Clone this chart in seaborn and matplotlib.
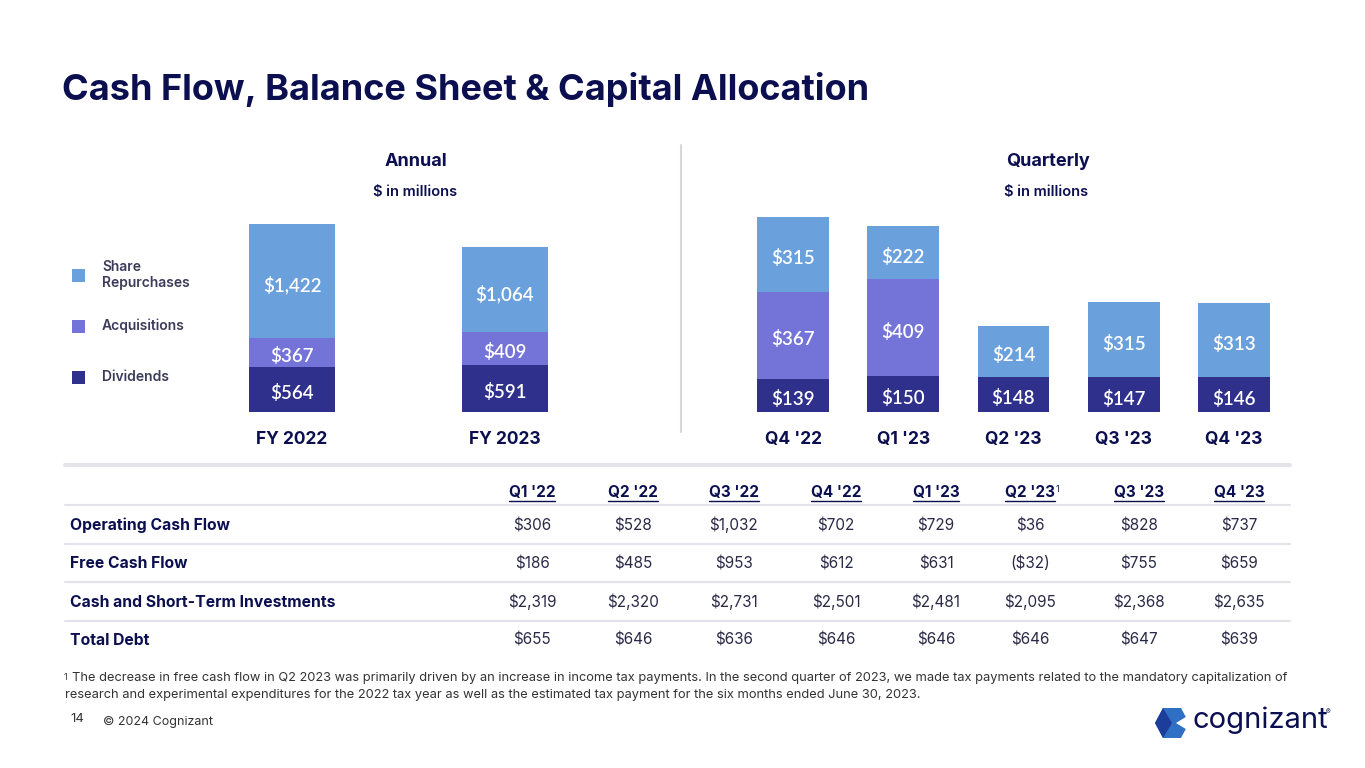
import pandas as pd
import seaborn as sns
import matplotlib.pyplot as plt
from matplotlib.patches import Rectangle, Polygon
from matplotlib.lines import Line2D
from matplotlib.transforms import offset_copy

# ---- data ----
annual_years = ["FY 2022", "FY 2023"]
annual_dividends = [564, 591]
annual_acquisitions = [367, 409]
annual_repurchases = [1422, 1064]

quarters = ["Q4 '22", "Q1 '23", "Q2 '23", "Q3 '23", "Q4 '23"]
q_dividends = [139, 150, 148, 147, 146]
q_acquisitions = [367, 409, 0, 0, 0]
q_repurchases = [315, 222, 214, 315, 313]

table_cols = ["Q1 '22", "Q2 '22", "Q3 '22", "Q4 '22", "Q1 '23", "Q2 '23", "Q3 '23", "Q4 '23"]
table_rows = ["Operating Cash Flow", "Free Cash Flow", "Cash and Short-Term Investments", "Total Debt"]
operating_cf = ["$306", "$528", "$1,032", "$702", "$729", "$36", "$828", "$737"]
free_cf = ["$186", "$485", "$953", "$612", "$631", "($32)", "$755", "$659"]
cash_sti = ["$2,319", "$2,320", "$2,731", "$2,501", "$2,481", "$2,095", "$2,368", "$2,635"]
total_debt = ["$655", "$646", "$636", "$646", "$646", "$646", "$647", "$639"]

# ---- style ----
sns.set_style("white")
plt.rcParams['font.family'] = ['Inter', 'DejaVu Sans']
VAL_FONT = ['Lato', 'DejaVu Sans']

NAVY = "#0b0f4f"
C_REP = "#6aa0dc"
C_ACQ = "#7373d8"
C_DIV = "#2e308c"
W, H = 1365, 768

fig = plt.figure(figsize=(W / 100, H / 100), dpi=100)


def px(x, y):
    return x / W, 1 - y / H


def stacked(ax, labels, div, acq, rep, width):
    df = pd.DataFrame({"period": labels, "div": div, "acq": acq, "rep": rep})
    df["c1"] = df["div"]
    df["c2"] = df["div"] + df["acq"]
    df["c3"] = df["c2"] + df["rep"]
    # overlapping cumulative bars give the stacked look
    for col, color in [("c3", C_REP), ("c2", C_ACQ), ("c1", C_DIV)]:
        sns.barplot(data=df, x="period", y=col, order=labels, color=color,
                    saturation=1, width=width, ax=ax, linewidth=0)
    tr = offset_copy(ax.transData, fig=fig, y=-4, units="dots")
    for i, r in df.iterrows():
        bottom = 0
        for v in [r["div"], r["acq"], r["rep"]]:
            if v > 0:
                ax.text(i, bottom + v / 2, f"${v:,}", ha="center", va="center", transform=tr,
                        color="white", fontsize=13.5, fontweight="semibold", family=VAL_FONT)
            bottom += v
    sns.despine(ax=ax, left=True, bottom=True)
    ax.set_yticks([])
    ax.set_xlabel("")
    ax.set_ylabel("")
    ax.set_xlim(-0.5, len(labels) - 0.5)
    ax.tick_params(axis="x", length=0, pad=14)
    for t in ax.get_xticklabels():
        t.set_fontsize(12.5)
        t.set_fontweight("bold")
        t.set_color(NAVY)


# annual panel: bars bottom at y=412, axes 262 px tall
l, b = px(185.5, 412)
ax1 = fig.add_axes([l, b, 426 / W, 262 / H])
ax1.patch.set_alpha(0)
stacked(ax1, annual_years, annual_dividends, annual_acquisitions, annual_repurchases, 0.404)
ax1.set_ylim(0, 3277)

# quarterly panel
l, b = px(738, 412)
ax2 = fig.add_axes([l, b, 551 / W, 262 / H])
ax2.patch.set_alpha(0)
stacked(ax2, quarters, q_dividends, q_acquisitions, q_repurchases, 0.65)
ax2.set_ylim(0, 1103)

# titles
fig.text(*px(62, 100), "Cash Flow, Balance Sheet & Capital Allocation", fontsize=26,
         fontweight="bold", color=NAVY, va="baseline")
fig.text(*px(416, 161), "Annual", ha="center", va="center", fontsize=13, fontweight="bold", color=NAVY)
fig.text(*px(415, 192), "$ in millions", ha="center", va="center", fontsize=10.5, fontweight="semibold", color=NAVY)
fig.text(*px(1048, 161), "Quarterly", ha="center", va="center", fontsize=13, fontweight="bold", color=NAVY)
fig.text(*px(1046, 192), "$ in millions", ha="center", va="center", fontsize=10.5, fontweight="semibold", color=NAVY)

# legend
for lab, color, yc in [("Share\nRepurchases", C_REP, 275), ("Acquisitions", C_ACQ, 326), ("Dividends", C_DIV, 377)]:
    x0, y0 = px(72, yc + 7)
    fig.add_artist(Rectangle((x0, y0), 13 / W, 13 / H, transform=fig.transFigure, color=color, lw=0))
    fig.text(*px(102, yc), lab, va="center", ha="left", fontsize=10, fontweight="semibold",
             color="#3c3c5a", linespacing=1.25)

# dividers
fig.add_artist(Line2D([681 / W, 681 / W], [1 - 145 / H, 1 - 432 / H], color="#d8d8d8", lw=1.5))
fig.add_artist(Line2D([65 / W, 1290 / W], [1 - 465 / H, 1 - 465 / H], color="#e4e4ea", lw=3))

# table
col_x = [532, 633, 734, 836, 936, 1030, 1139, 1239]
row_y = [525, 563, 602, 640]
headers = []
for cx, name in zip(col_x, table_cols):
    headers.append(fig.text(*px(cx, 497), name, ha="center", va="baseline", fontsize=11,
                            fontweight="bold", color=NAVY))
for yl in [505, 544, 582, 621]:
    fig.add_artist(Line2D([65 / W, 1290 / W], [1 - yl / H, 1 - yl / H], color="#e2e2ea", lw=1.5))
for ry, name, vals in zip(row_y, table_rows, [operating_cf, free_cf, cash_sti, total_debt]):
    fig.text(*px(70, ry + 5), name, ha="left", va="baseline", fontsize=11.3, fontweight="bold", color=NAVY)
    for cx, v in zip(col_x, vals):
        fig.text(*px(cx, ry + 5), v, ha="center", va="baseline", fontsize=11, color="#2a2a48")

fig.canvas.draw()
rend = fig.canvas.get_renderer()
for i, t in enumerate(headers):
    bb = t.get_window_extent(rend)
    yy = (bb.y0 - 1) / H
    fig.add_artist(Line2D([bb.x0 / W, bb.x1 / W], [yy, yy], color=NAVY, lw=1))
    if table_cols[i] == "Q2 '23":
        fig.text((bb.x1 + 1) / W, bb.y1 / H, "1", fontsize=6.5, color=NAVY, va="top", ha="left")

# footnote
fig.text(*px(64, 677), "1", fontsize=6.5, color="#333333", va="center")
fig.text(*px(72, 678), "The decrease in free cash flow in Q2 2023 was primarily driven by an increase in income tax payments. "
         "In the second quarter of 2023, we made tax payments related to the mandatory capitalization of",
         fontsize=9.25, color="#333333", va="center")
fig.text(*px(65, 695), "research and experimental expenditures for the 2022 tax year as well as the estimated tax payment "
         "for the six months ended June 30, 2023.", fontsize=9.25, color="#333333", va="center")
fig.text(*px(70, 719), "14", fontsize=9.5, color="#333333", va="center")
fig.text(*px(103, 722), "\u00a9 2024 Cognizant", fontsize=9, color="#333333", va="center")

# logo
hexpts = [(1155, 723), (1163, 708), (1181, 708), (1189, 723), (1181, 738), (1163, 738)]
fig.add_artist(Polygon([px(x, y) for x, y in hexpts], closed=True, transform=fig.transFigure,
                       color="#2f6fc4", lw=0))
notch = [(1189, 715), (1176, 723), (1189, 731)]
fig.add_artist(Polygon([px(x, y) for x, y in notch], closed=True, transform=fig.transFigure,
                       color="white", lw=0))
fig.add_artist(Polygon([px(x, y) for x, y in [(1163, 708), (1172, 723), (1163, 738), (1155, 723)]],
                       closed=True, transform=fig.transFigure, color="#1d3d9a", lw=0))
fig.text(*px(1192, 720), "cognizant", fontsize=21, color=NAVY, va="center", ha="left")
fig.text(*px(1326, 712), "\u00ae", fontsize=5, color=NAVY, va="center")

fig.savefig("out.png", dpi=100)
